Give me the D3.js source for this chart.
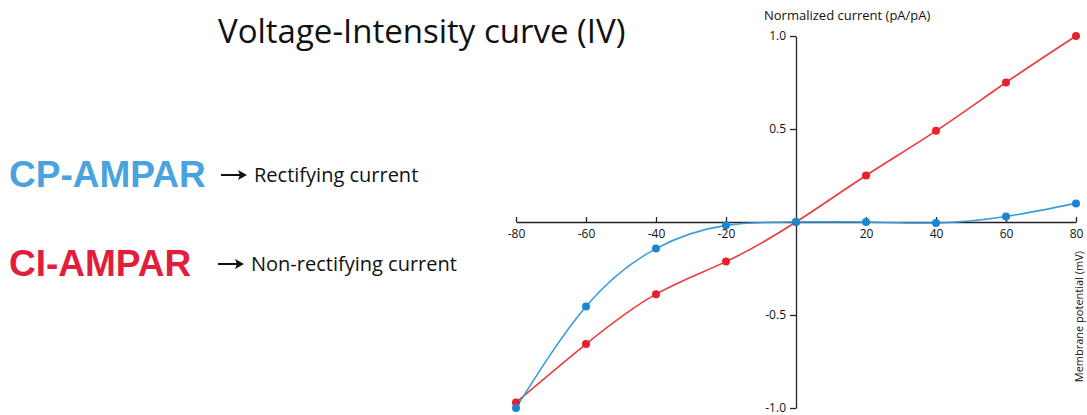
<!DOCTYPE html>
<html>
<head>
<meta charset="utf-8">
<script src="https://cdn.jsdelivr.net/npm/d3@7/dist/d3.min.js"></script>
<style>
  body { margin: 0; padding: 0; background: #fff; }
  svg { display: block; }
  .tick text { font-family: "Open Sans", sans-serif; font-size: 12px; fill: #111; }
</style>
</head>
<body>
<div id="chart"></div>
<script>
// membrane potential (mV)
var voltages = [-80, -60, -40, -20, 0, 20, 40, 60, 80];
// normalized current (pA/pA)
var ciAmpar = [-0.97, -0.656, -0.388, -0.213, 0, 0.25, 0.49, 0.75, 1.0];
var cpAmpar = [-1.0, -0.454, -0.143, -0.018, 0, 0.0, -0.005, 0.03, 0.1];
var xTicks = [-80, -60, -40, -20, 20, 40, 60, 80];
var yTicks = [-1.0, -0.5, 0.5, 1.0];

var width = 1087, height = 415;
var red = "#e8202b", blue = "#1b87d1";

var svg = d3.select("#chart").append("svg")
    .attr("width", width)
    .attr("height", height);

var x = d3.scaleLinear().domain([-80, 80]).range([516, 1076]);
var y = d3.scaleLinear().domain([-1, 1]).range([408, 36]);

// hyphen instead of unicode minus, like the original
function hy(f) {
    return function(d) { return f(d).replace("\u2212", "-"); };
}

// title and legend text
svg.append("text")
    .attr("x", 218).attr("y", 43)
    .attr("font-family", "Open Sans, sans-serif")
    .attr("font-size", 33)
    .attr("fill", "#111")
    .text("Voltage-Intensity curve (IV)");

function legendRow(label, color, desc, ty, ax) {
    svg.append("text")
        .attr("x", 9).attr("y", ty)
        .attr("font-family", "Liberation Sans, Arial, sans-serif")
        .attr("font-weight", "bold")
        .attr("font-size", 37)
        .attr("fill", color)
        .text(label);
    svg.append("line")
        .attr("x1", ax).attr("x2", ax + 20)
        .attr("y1", ty - 12).attr("y2", ty - 12)
        .attr("stroke", "#111").attr("stroke-width", 2);
    svg.append("path")
        .attr("d", "M" + (ax + 26) + "," + (ty - 12) + "l-9,-5l2,5l-2,5z")
        .attr("fill", "#111");
    svg.append("text")
        .attr("x", ax + 33).attr("y", ty - 5)
        .attr("font-family", "Open Sans, sans-serif")
        .attr("font-size", 20)
        .attr("fill", "#111")
        .text(desc);
}
legendRow("CP-AMPAR", "#4aa3de", "Rectifying current", 187, 221);
legendRow("CI-AMPAR", "#e31e3c", "Non-rectifying current", 276, 218);

// axes
var xAxis = d3.axisBottom(x)
    .tickValues(xTicks)
    .tickSizeInner(-5)
    .tickSizeOuter(0)
    .tickPadding(7)
    .tickFormat(hy(d3.format("d")));
svg.append("g")
    .attr("transform", "translate(0," + y(0) + ")")
    .call(xAxis);

var yAxis = d3.axisLeft(y)
    .tickValues(yTicks)
    .tickSizeInner(6)
    .tickSizeOuter(0)
    .tickPadding(4)
    .tickFormat(hy(d3.format(".1f")));
svg.append("g")
    .attr("transform", "translate(" + x(0) + ",0)")
    .call(yAxis);

svg.selectAll(".domain, .tick line").attr("stroke", "#222").attr("stroke-width", 1.3);

svg.append("text")
    .attr("x", 764).attr("y", 20)
    .attr("font-family", "Open Sans, sans-serif")
    .attr("font-size", 13)
    .attr("fill", "#111")
    .text("Normalized current (pA/pA)");

svg.append("text")
    .attr("transform", "translate(1083,251) rotate(-90)")
    .attr("text-anchor", "end")
    .attr("font-family", "Open Sans, sans-serif")
    .attr("font-size", 11)
    .attr("fill", "#111")
    .text("Membrane potential (mV)");

// curves
var series = [
    { name: "CI-AMPAR", values: ciAmpar, color: red, line: "#ee3a3a" },
    { name: "CP-AMPAR", values: cpAmpar, color: blue, line: "#3a9bdc" }
];

var line = d3.line()
    .x(function(d, i) { return x(voltages[i]); })
    .y(function(d) { return y(d); })
    .curve(d3.curveNatural);

series.forEach(function(s) {
    svg.append("path")
        .datum(s.values)
        .attr("fill", "none")
        .attr("stroke", s.line)
        .attr("stroke-width", 1.6)
        .attr("d", line);
});

series.forEach(function(s) {
    svg.selectAll(null)
        .data(s.values)
        .enter().append("circle")
        .attr("cx", function(d, i) { return x(voltages[i]); })
        .attr("cy", function(d) { return y(d); })
        .attr("r", 4)
        .attr("fill", s.color);
});
</script>
</body>
</html>
